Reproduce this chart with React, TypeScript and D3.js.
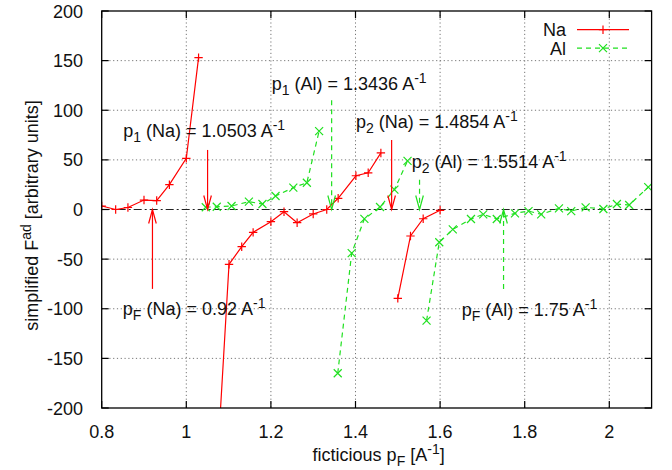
import React from "react";
import * as d3 from "d3";

// ---------- data ----------
const xTickValues = [0.8, 1.0, 1.2, 1.4, 1.6, 1.8, 2.0];
const xTickLabels = ["0.8", "1", "1.2", "1.4", "1.6", "1.8", "2"];
const yTickValues = [-200, -150, -100, -50, 0, 50, 100, 150, 200];
const yTickLabels = ["-200", "-150", "-100", "-50", "0", "50", "100", "150", "200"];

// Na (red, +) — three branches separated by divergences
const naX1 = [0.8, 0.833, 0.862, 0.9, 0.93, 0.96, 1.0, 1.029];
const naY1 = [3.5, 0, 2, 9.5, 9, 25, 51.5, 153];
const naX2 = [1.07, 1.101, 1.131, 1.158, 1.2, 1.231, 1.262, 1.3, 1.332, 1.359, 1.401, 1.43, 1.46];
const naY2 = [-280, -55.2, -37.5, -23, -12.3, -2.2, -13.3, -4.5, 0, 11.3, 34, 37, 57];
const naX3 = [1.5, 1.53, 1.56, 1.6];
const naY3 = [-89.5, -26.7, -9.3, -0.8];

// Al (green, x)
const alX1 = [1.046, 1.072, 1.107, 1.148, 1.18, 1.211, 1.253, 1.285, 1.314];
const alY1 = [2.3, 2.8, 3.5, 7.9, 5.5, 13.6, 22, 27, 79];
const alX2 = [1.358, 1.391, 1.421, 1.458, 1.492, 1.523];
const alY2 = [-165, -44, -9.5, 2.5, 20, 49];
const alX3 = [1.568, 1.598, 1.63, 1.673, 1.702, 1.734, 1.777, 1.809, 1.839, 1.881, 1.91, 1.944, 1.986, 2.018, 2.047, 2.092];
const alY3 = [-112, -33, -20, -9.6, -4.9, -9.6, -3.9, -1.6, -4.9, 1.2, -1.6, 2.2, 0.5, 5.5, 4.5, 22.5];

// arrows: x position, start y, tip y, series
const arrowX = [1.0503, 0.92, 1.3436, 1.4854, 1.5514, 1.75];
const arrowFrom = [60, -80, 110, 70, 30, -80];
const arrowTo = [0, 0, 0, 0, 0, 0];
const arrowSeries = ["Na", "Na", "Al", "Na", "Al", "Al"];

// labels: left x, vertical centre y, subscript, name, value
const labelX = [0.851, 1.202, 1.401, 1.533, 0.85, 1.651];
const labelY = [80, 126.5, 88.5, 48.2, -99.5, -101];
const labelSub = ["1", "1", "2", "2", "F", "F"];
const labelName = ["Na", "Al", "Na", "Al", "Na", "Al"];
const labelValue = ["1.0503", "1.3436", "1.4854", "1.5514", "0.92", "1.75"];

// ---------- style ----------
const W = 672;
const H = 470;
const FONT = "'Liberation Sans', Arial, Helvetica, sans-serif";
const FS = 18;
const RED = "#ff0000";
const GREEN = "#1fe01f";
const PL = 101.7, PR = 651.6, PT = 11, PB = 408;

const xs = d3.scaleLinear().domain([0.8, 2.1]).range([PL, PR]);
const ys = d3.scaleLinear().domain([-200, 200]).range([PB, PT]);

type Part = { t: string; s?: "sub" | "sup" };

function Rich({ x, y, parts, anchor = "start", transform }: { x: number; y: number; parts: Part[]; anchor?: string; transform?: string }) {
  let cur = 0;
  const spans: React.ReactNode[] = [];
  parts.forEach((p, i) => {
    const target = p.s === "sub" ? 5 : p.s === "sup" ? -7 : 0;
    const dy = target - cur;
    cur = target;
    spans.push(
      <tspan key={i} dy={dy} fontSize={p.s ? FS * 0.78 : FS}>
        {p.t}
      </tspan>
    );
  });
  return (
    <text x={x} y={y} textAnchor={anchor as any} fontFamily={FONT} fontSize={FS} fill="#111" transform={transform}>
      {spans}
    </text>
  );
}

function plus(cx: number, cy: number, color: string, k: string) {
  const r = 4.2;
  return <path key={k} d={`M${cx - r},${cy}H${cx + r}M${cx},${cy - r}V${cy + r}`} stroke={color} strokeWidth={1.2} fill="none" />;
}
function cross(cx: number, cy: number, color: string, k: string) {
  const r = 4;
  return <path key={k} d={`M${cx - r},${cy - r}L${cx + r},${cy + r}M${cx - r},${cy + r}L${cx + r},${cy - r}`} stroke={color} strokeWidth={1.2} fill="none" />;
}

export default function App() {
  const line = d3
    .line<[number, number]>()
    .x((d) => xs(d[0]))
    .y((d) => ys(d[1]));

  const zip = (a: number[], b: number[]) => a.map((v, i) => [v, b[i]] as [number, number]);
  const naSegs = [zip(naX1, naY1), zip(naX2, naY2), zip(naX3, naY3)];
  const alSegs = [zip(alX1, alY1), zip(alX2, alY2), zip(alX3, alY3)];

  const inPlot = (d: [number, number]) => d[0] >= 0.8 && d[0] <= 2.1 && d[1] >= -200 && d[1] <= 200;

  return (
    <svg width={W} height={H} style={{ position: "absolute", left: 0, top: 0, background: "#fff" }}>
      <defs>
        <clipPath id="plotclip">
          <rect x={PL} y={PT} width={PR - PL} height={PB - PT} />
        </clipPath>
      </defs>
      <rect x={0} y={0} width={W} height={H} fill="#fff" />

      {/* grid */}
      {xTickValues.slice(1).map((v, i) => (
        <line key={"gx" + i} x1={xs(v)} x2={xs(v)} y1={PT} y2={PB} stroke="#777" strokeWidth={1} strokeDasharray="1.2,2.6" />
      ))}
      {yTickValues.slice(1, -1).map((v, i) =>
        v === 0 ? null : (
          <line key={"gy" + i} x1={PL} x2={PR} y1={ys(v)} y2={ys(v)} stroke="#777" strokeWidth={1} strokeDasharray="1.2,2.6" />
        )
      )}
      {/* zero axis */}
      <line x1={PL} x2={PR} y1={ys(0)} y2={ys(0)} stroke="#222" strokeWidth={1} strokeDasharray="8,3,2,3" />

      {/* series */}
      <g clipPath="url(#plotclip)">
        {naSegs.map((s, i) => (
          <path key={"na" + i} d={line(s) || ""} fill="none" stroke={RED} strokeWidth={1.2} />
        ))}
        {alSegs.map((s, i) => (
          <path key={"al" + i} d={line(s) || ""} fill="none" stroke={GREEN} strokeWidth={1.2} strokeDasharray="5,4" />
        ))}
        {naSegs.flat().filter(inPlot).map((d, i) => plus(xs(d[0]), ys(d[1]), RED, "pn" + i))}
        {alSegs.flat().filter(inPlot).map((d, i) => cross(xs(d[0]), ys(d[1]), GREEN, "pa" + i))}
      </g>

      {/* arrows */}
      {arrowX.map((ax, i) => {
        const color = arrowSeries[i] === "Na" ? RED : GREEN;
        const dash = arrowSeries[i] === "Na" ? undefined : "5,4";
        const px = xs(ax);
        const y0 = ys(arrowFrom[i]);
        const y1 = ys(arrowTo[i]);
        const dir = y1 > y0 ? 1 : -1;
        const hl = 14, hw = 3.8;
        return (
          <g key={"ar" + i}>
            <line x1={px} x2={px} y1={y0} y2={y1} stroke={color} strokeWidth={1.2} strokeDasharray={dash} />
            <path d={`M${px - hw},${y1 - dir * hl}L${px},${y1}L${px + hw},${y1 - dir * hl}`} fill="none" stroke={color} strokeWidth={1.2} />
          </g>
        );
      })}

      {/* frame and ticks */}
      <rect x={PL} y={PT} width={PR - PL} height={PB - PT} fill="none" stroke="#000" strokeWidth={1.3} />
      {xTickValues.map((v, i) => (
        <g key={"xt" + i}>
          <line x1={xs(v)} x2={xs(v)} y1={PB} y2={PB - 7} stroke="#000" strokeWidth={1.2} />
          <line x1={xs(v)} x2={xs(v)} y1={PT} y2={PT + 7} stroke="#000" strokeWidth={1.2} />
          <text x={xs(v)} y={438} textAnchor="middle" fontFamily={FONT} fontSize={FS} fill="#111">
            {xTickLabels[i]}
          </text>
        </g>
      ))}
      {yTickValues.map((v, i) => (
        <g key={"yt" + i}>
          <line x1={PL} x2={PL + 7} y1={ys(v)} y2={ys(v)} stroke="#000" strokeWidth={1.2} />
          <line x1={PR} x2={PR - 7} y1={ys(v)} y2={ys(v)} stroke="#000" strokeWidth={1.2} />
          <text x={83} y={ys(v) + 6.5} textAnchor="end" fontFamily={FONT} fontSize={FS} fill="#111">
            {yTickLabels[i]}
          </text>
        </g>
      ))}

      {/* annotation labels */}
      {labelX.map((lx, i) => (
        <Rich
          key={"lb" + i}
          x={xs(lx)}
          y={ys(labelY[i]) + 6.5}
          parts={[
            { t: "p" },
            { t: labelSub[i], s: "sub" },
            { t: ` (${labelName[i]}) = ${labelValue[i]} A` },
            { t: "-1", s: "sup" },
          ]}
        />
      ))}

      {/* axis labels */}
      <Rich
        x={(PL + PR) / 2 + 2}
        y={461}
        anchor="middle"
        parts={[{ t: "ficticious p" }, { t: "F", s: "sub" }, { t: " [A" }, { t: "-1", s: "sup" }, { t: "]" }]}
      />
      <Rich
        x={0}
        y={0}
        anchor="middle"
        transform={`translate(38,${(PT + PB) / 2 + 6}) rotate(-90)`}
        parts={[{ t: "simplified F" }, { t: "ad", s: "sup" }, { t: " [arbitrary units]" }]}
      />

      {/* legend */}
      <text x={566} y={36} textAnchor="end" fontFamily={FONT} fontSize={FS} fill="#111">Na</text>
      <line x1={577} x2={629} y1={29.7} y2={29.7} stroke={RED} strokeWidth={1.2} />
      {plus(603, 29.7, RED, "lgn")}
      <text x={566} y={54.5} textAnchor="end" fontFamily={FONT} fontSize={FS} fill="#111">Al</text>
      <line x1={577} x2={629} y1={48.2} y2={48.2} stroke={GREEN} strokeWidth={1.2} strokeDasharray="5,4" />
      {cross(603, 48.2, GREEN, "lga")}
    </svg>
  );
}
